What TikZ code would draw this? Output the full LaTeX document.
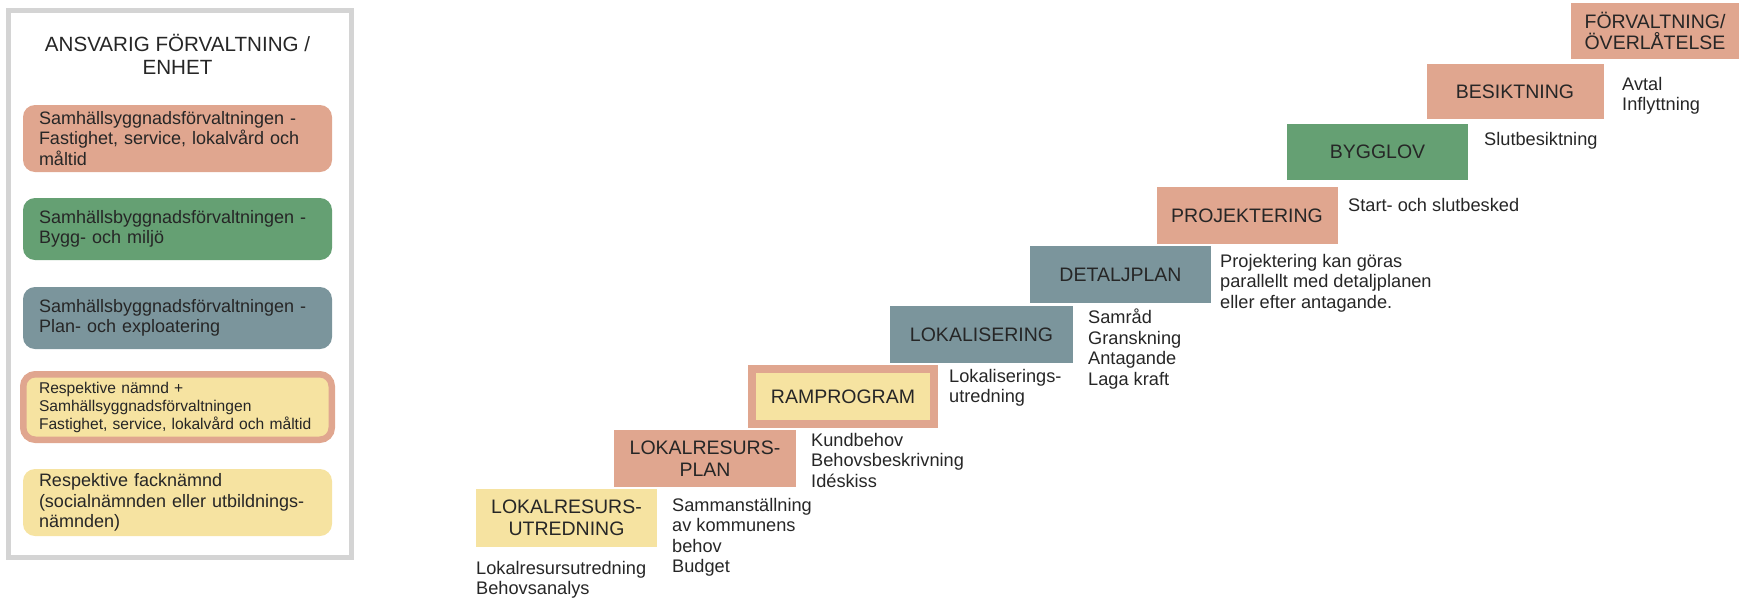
\documentclass[tikz,border=0pt]{standalone}
\usepackage{fontspec}
\setmainfont{Liberation Sans}
\definecolor{salmon}{HTML}{E0A68F}
\definecolor{leaf}{HTML}{65A073}
\definecolor{slate}{HTML}{7B959C}
\definecolor{sand}{HTML}{F6E3A1}
\definecolor{frame}{HTML}{D4D4D4}
\definecolor{ink}{HTML}{262626}
\tikzset{
  stage/.style={rectangle, inner sep=0pt, align=center, text=ink,
    minimum width=181pt, minimum height=57pt,
    font=\fontsize{19.5}{21.7}\selectfont},
  note/.style={anchor=north west, inner sep=0pt, align=left, text=ink,
    font=\fontsize{18.2}{20.5}\selectfont},
  owner/.style={rectangle, rounded corners=12pt, inner sep=0pt,
    minimum width=309pt, text width=277pt, align=left, text=ink,
    font=\fontsize{18}{20.5}\selectfont}
}
\begin{document}
\begin{tikzpicture}[x=1pt,y=-1pt]
      \useasboundingbox (0,0) rectangle (1740,600);
      \draw[line width=5pt, frame] (8.5,10.5) rectangle (351,557.5);
      \path
        (177.5,31) node[anchor=north, align=center, text=ink,
          font=\fontsize{20.6}{23}\selectfont] (head){ANSVARIG FÖRVALTNING /\\ENHET}
        (177.5,138.5) node[owner, fill=salmon, minimum height=67pt] (o1)
          {Samhällsyggnadsförvaltningen -\\Fastighet, service, lokalvård och\\måltid}
        (177.5,229) node[owner, fill=leaf, minimum height=62pt] (o2)
          {Samhällsbyggnadsförvaltningen -\\Bygg- och miljö}
        (177.5,318) node[owner, fill=slate, minimum height=62pt] (o3)
          {Samhällsbyggnadsförvaltningen -\\Plan- och exploatering}
        (177.5,407) node[owner, fill=sand, draw=salmon, line width=6.5pt,
          minimum width=308.5pt, minimum height=65.5pt,
          font=\fontsize{15.6}{18}\selectfont] (o4)
          {Respektive nämnd +\\Samhällsyggnadsförvaltningen\\\mbox{Fastighet, service, lokalvård och måltid}}
        (177.5,502.5) node[owner, fill=sand, minimum height=67pt] (o5)
          {Respektive facknämnd\\(socialnämnden eller utbildnings-\\nämnden)};
      \path
        (566.5,518) node[stage, fill=sand, minimum height=58pt] (1){LOKALRESURS-\\UTREDNING}
        (705,458.5) node[stage, fill=salmon, minimum width=182pt] (2){LOKALRESURS-\\PLAN}
        (843,396.5) node[stage, fill=sand, draw=salmon, line width=8pt,
          minimum width=182pt, minimum height=55pt] (3){RAMPROGRAM}
        (981.5,334.5) node[stage, fill=slate, minimum width=183pt] (4){LOKALISERING}
        (1120.5,274.5) node[stage, fill=slate] (5){DETALJPLAN}
        (1247,215.5) node[stage, fill=salmon] (6){PROJEKTERING}
        (1377.5,152) node[stage, fill=leaf, minimum height=56pt] (7){BYGGLOV}
        (1515,91.5) node[stage, fill=salmon, minimum width=177pt, minimum height=55pt] (8){BESIKTNING}
        (1655,31) node[stage, fill=salmon, minimum width=168pt, minimum height=56pt] (9){FÖRVALTNING/\\ÖVERLÅTELSE};
      \path
        (476,560.7) node[note] (n1){Lokalresursutredning\\Behovsanalys}
        (672,497.7) node[note] (n2){Sammanställning\\av kommunens\\behov\\Budget}
        (811,432.7) node[note] (n3){Kundbehov\\Behovsbeskrivning\\Idéskiss}
        (949,368.7) node[note] (n4){Lokaliserings-\\utredning}
        (1088,308.7) node[note] (n5){Samråd\\Granskning\\Antagande\\Laga kraft}
        (1220,253.7) node[note] (n6){Projektering kan göras\\parallellt med detaljplanen\\eller efter antagande.}
        (1348,197.7) node[note] (n7){Start- och slutbesked}
        (1484,131.7) node[note] (n8){Slutbesiktning}
        (1622,76.7) node[note] (n9){Avtal\\Inflyttning};
    \end{tikzpicture}
\end{document}
